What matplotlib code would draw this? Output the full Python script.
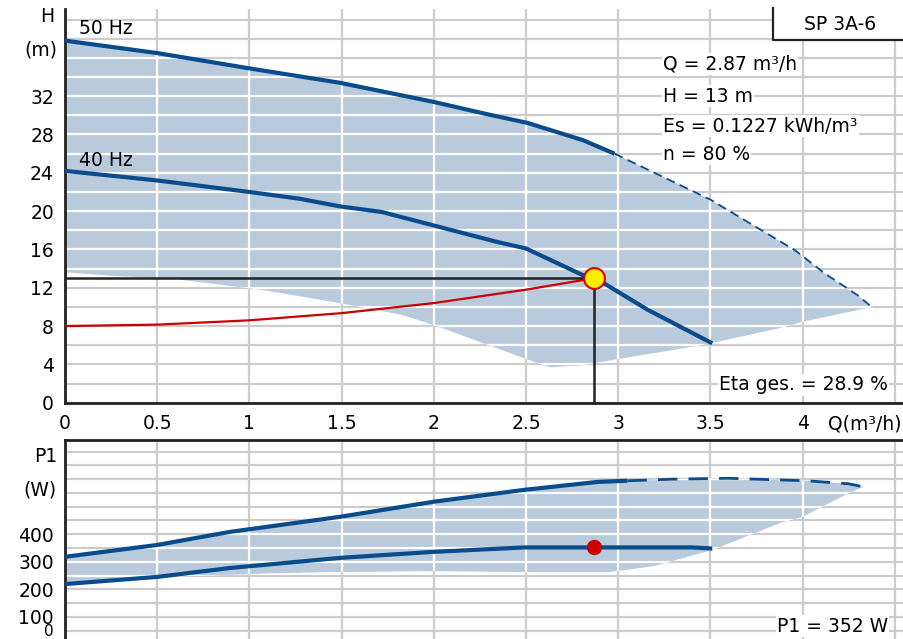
import numpy as np
import matplotlib
matplotlib.use("Agg")
import matplotlib.pyplot as plt

# --- head chart (Q in m3/h, H in m) ---
q_50 = [0, 0.5, 1.0, 1.49, 2.0, 2.27, 2.51, 2.81, 2.98]
h_50 = [37.8, 36.5, 34.9, 33.4, 31.4, 30.2, 29.2, 27.4, 26.0]
q_50_ext = [2.98, 3.5, 3.96, 4.12, 4.3, 4.38]
h_50_ext = [26.0, 21.2, 15.9, 13.5, 11.2, 9.9]
q_40 = [0, 0.5, 1.0, 1.27, 1.49, 1.72, 2.0, 2.34, 2.5, 2.81, 2.92, 3.16, 3.34, 3.51]
h_40 = [24.2, 23.2, 22.0, 21.3, 20.5, 19.9, 18.5, 16.8, 16.1, 13.3, 12.5, 9.7, 7.9, 6.2]
q_low = [0, 0.3, 0.6, 1.06, 1.49, 1.82, 2.0, 2.27, 2.51, 2.63, 2.8, 2.98, 3.36, 3.5, 3.88, 3.99, 4.38]
h_low = [13.6, 13.2, 12.9, 11.8, 10.4, 9.2, 8.1, 6.2, 4.5, 3.7, 3.9, 4.5, 5.7, 6.2, 7.8, 8.4, 10.0]
q_sys = [0, 0.5, 1.0, 1.5, 2.0, 2.5, 2.87]
h_sys = [8.0, 8.15, 8.6, 9.35, 10.4, 11.8, 13.0]
q_op, h_op, p_op = 2.87, 13, 352

# --- power chart (P1 in W) ---
q_p50 = [0, 0.5, 0.89, 1.49, 2.0, 2.49, 2.89, 3.05]
p_p50 = [318, 361, 408, 463, 518, 561, 590, 594]
q_p50_ext = [3.05, 3.3, 3.6, 4.02, 4.25, 4.33]
p_p50_ext = [594, 600, 603, 594, 583, 572]
q_p40 = [0, 0.5, 0.89, 1.49, 2.0, 2.49, 3.4, 3.51]
p_p40 = [219, 245, 277, 314, 336, 352, 352, 348]
q_plow = [0, 0.5, 0.8, 1.1, 1.4, 2.0, 2.6, 2.95, 3.2, 3.51, 3.88, 4.0, 4.25, 4.33]
p_plow = [219, 245, 250, 258, 262, 266, 262, 262, 285, 343, 441, 463, 549, 572]

x_ticks = [0, 0.5, 1, 1.5, 2, 2.5, 3, 3.5, 4]
x_labels = ["0", "0.5", "1", "1.5", "2", "2.5", "3", "3.5", "4"]
h_ticks = [0, 4, 8, 12, 16, 20, 24, 28, 32]
p_ticks = [100, 200, 300, 400]

shade = "#b8cadc"
curve = "#0a4b8c"
grid_c = "#cccccc"
W, H = 904, 639

plt.rcParams["font.family"] = "DejaVu Sans"
plt.rcParams["font.size"] = 13.5

fig = plt.figure(figsize=(W / 100, H / 100), dpi=100)


def px(x, y):
    return x / W, 1 - y / H


def grid(ax, xs, ys, poly):
    # grey grid on white, white grid inside the shaded range
    for x in xs:
        ax.axvline(x, color=grid_c, lw=1.6, zorder=0)
        ax.axvline(x, color="white", lw=1.6, zorder=2).set_clip_path(poly)
    for y in ys:
        ax.axhline(y, color=grid_c, lw=1.6, zorder=0)
        ax.axhline(y, color="white", lw=1.6, zorder=2).set_clip_path(poly)


def style(ax, sides):
    for s in ["right", "top", "bottom", "left"]:
        ax.spines[s].set_visible(s in sides)
        ax.spines[s].set_linewidth(2)
        ax.spines[s].set_color("#222222")
    ax.tick_params(length=0, pad=8)


# head chart
ax1 = fig.add_axes([65 / W, (H - 402.7) / H, (W - 65) / W, (402.7 - 9) / H])
ax1.set_xlim(0, 4.55)
ax1.set_ylim(0, 41.1)
style(ax1, ["left", "bottom"])

top_q = q_50 + q_50_ext[1:]
top_h = h_50 + h_50_ext[1:]
poly1 = ax1.fill(top_q + q_low[::-1], top_h + h_low[::-1], color=shade, lw=0, zorder=1)[0]
grid(ax1, np.arange(0, 4.6, 0.5), np.arange(0, 41, 2), poly1)

ax1.plot(q_50, h_50, color=curve, lw=3, zorder=4, solid_capstyle="butt")
ax1.plot(q_50_ext, h_50_ext, color=curve, lw=1.3, ls=(0, (5, 3)), zorder=4)
ax1.plot(q_40, h_40, color=curve, lw=3, zorder=4, solid_capstyle="butt")
ax1.plot(q_sys, h_sys, color="#cc0000", lw=1.6, zorder=5)
ax1.plot([0, q_op], [h_op, h_op], color="#222222", lw=1.8, zorder=5)
ax1.plot([q_op, q_op], [0, h_op], color="#222222", lw=1.8, zorder=5)
ax1.plot([q_op], [h_op], marker="o", ms=15, mfc="#ffee00", mec="#dd0000", mew=1.5, zorder=6)

ax1.set_xticks(x_ticks)
ax1.set_xticklabels(x_labels)
ax1.set_yticks(h_ticks)

box = dict(facecolor="white", edgecolor="none", pad=1)
fig.text(*px(79, 29), "50 Hz", ha="left", va="center")
fig.text(*px(79, 160), "40 Hz", ha="left", va="center")
fig.text(*px(54, 16), "H", ha="right", va="center")
fig.text(*px(57, 50), "(m)", ha="right", va="center")
fig.text(*px(663, 64), "Q = 2.87 m³/h", ha="left", va="center", bbox=box, zorder=7)
fig.text(*px(663, 96), "H = 13 m", ha="left", va="center", bbox=box, zorder=7)
fig.text(*px(663, 126), "Es = 0.1227 kWh/m³", ha="left", va="center", bbox=box, zorder=7)
fig.text(*px(663, 154), "n = 80 %", ha="left", va="center", bbox=box, zorder=7)
fig.text(*px(888, 385), "Eta ges. = 28.9 %", ha="right", va="center", bbox=box, zorder=7)
fig.text(*px(902, 424), "Q(m³/h)", ha="right", va="center")

# model box in the corner
fig.patches.append(plt.Rectangle(px(773, 40), (W - 773) / W, 32 / H, transform=fig.transFigure,
                                 facecolor="white", edgecolor="none", zorder=8))
fig.lines.append(plt.Line2D([773 / W, 773 / W, 1], [1 - 8 / H, 1 - 40 / H, 1 - 40 / H],
                            transform=fig.transFigure, color="#222222", lw=1.6, zorder=9))
fig.text(*px(840, 24), "SP 3A-6", ha="center", va="center", zorder=10)

# power chart
ax2 = fig.add_axes([65 / W, 0, (W - 65) / W, (H - 440) / H])
ax2.set_xlim(0, 4.55)
ax2.set_ylim(19.6, 742)
style(ax2, ["left", "top"])

ptop_q = q_p50 + q_p50_ext[1:]
ptop_p = p_p50 + p_p50_ext[1:]
poly2 = ax2.fill(ptop_q + q_plow[::-1], ptop_p + p_plow[::-1], color=shade, lw=0, zorder=1)[0]
grid(ax2, np.arange(0, 4.6, 0.5), np.arange(0, 750, 50), poly2)

ax2.plot(q_p50, p_p50, color=curve, lw=3, zorder=4, solid_capstyle="butt")
ax2.plot(q_p50_ext, p_p50_ext, color=curve, lw=2, ls=(0, (7, 4)), zorder=4)
ax2.plot(q_p40, p_p40, color=curve, lw=3, zorder=4, solid_capstyle="butt")
ax2.plot([q_op], [p_op], marker="o", ms=10, color="#cc0000", zorder=6)

ax2.set_xticks(x_ticks)
ax2.set_xticklabels([])
ax2.set_yticks(p_ticks)
fig.text(*px(57, 456), "P1", ha="right", va="center")
fig.text(*px(57, 490), "(W)", ha="right", va="center")
# the 0 label is squeezed under 100 at the bottom edge, as in the original
fig.text(*px(54, 631), "0", ha="right", va="center", fontsize=11)
fig.text(*px(888, 626), "P1 = 352 W", ha="right", va="center", bbox=box, zorder=7)

fig.savefig("out.png", dpi=100)
